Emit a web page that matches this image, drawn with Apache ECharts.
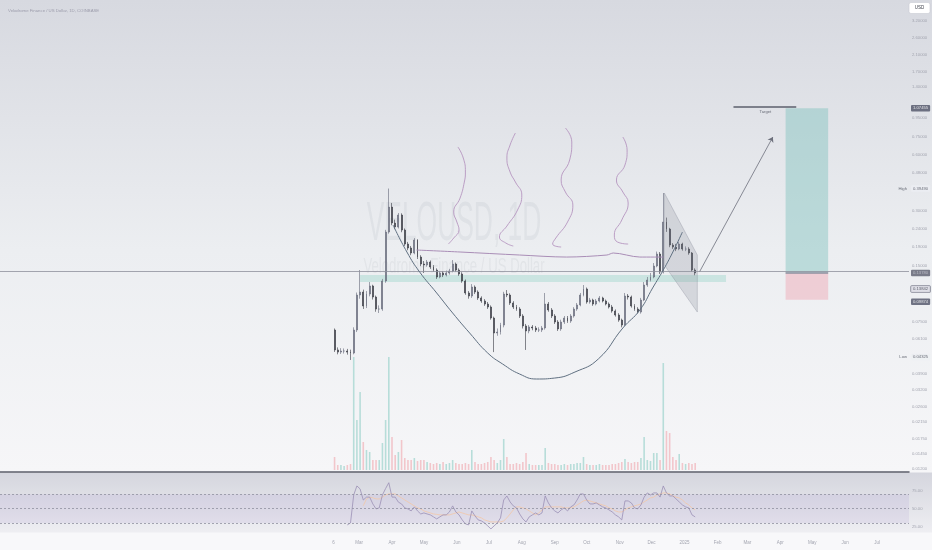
<!DOCTYPE html>
<html><head><meta charset="utf-8">
<script src="https://cdn.jsdelivr.net/npm/echarts@6/dist/echarts.min.js"></script>
<style>
html,body{margin:0;padding:0;}
#c{width:932px;height:550px;background:linear-gradient(to bottom,#d7d9e0 0px,#eceef1 250px,#f6f6f8 472px,#d5d6de 473px,#eeeef2 532px,#f8f8fa 533px,#f8f8fa 550px);}
</style></head><body><div id="c"></div>
<script>
// ---------- data (3-day candles, VELO/USD) ----------
const startDate = '2024-02-07';
const stepDays = 3;
const firstOpen = 0.0677;
const closes = [
0.0528,0.0514,0.0521,0.0521,0.0514,0.0508,0.0677,0.1047,0.1087,0.0913,
0.1060,0.1172,0.1021,0.0879,0.0879,0.1247,0.2296,0.3136,0.2569,0.2444,
0.2838,0.2354,0.1977,0.1882,0.1768,0.2078,0.1681,0.1541,0.1522,0.1580,
0.1485,0.1430,0.1311,0.1378,0.1344,0.1378,0.1413,0.1541,0.1430,0.1361,
0.1247,0.1074,0.1034,0.1157,0.1087,0.1009,0.0972,0.0936,0.0902,0.0786,
0.0652,0.0660,0.0720,0.1060,0.1047,0.0948,0.0902,0.0879,0.0806,0.0712,
0.0669,0.0703,0.0694,0.0677,0.0677,0.0694,0.0936,0.0869,0.0806,0.0748,
0.0686,0.0748,0.0786,0.0757,0.0806,0.0879,0.0925,0.1047,0.1129,0.0960,
0.0984,0.0936,0.0972,0.1009,0.0972,0.0936,0.0902,0.0858,0.0816,0.0766,
0.0720,0.1034,0.1021,0.0913,0.0879,0.0847,0.0984,0.1186,0.1262,0.1311,
0.1503,0.1746,0.1395,0.2601,0.2384,0.1953,0.1905,0.1858,0.1977,0.1858,
0.1858,0.1768,0.1430,0.1378];
const highs = [
0.0690,0.0545,0.0540,0.0538,0.0535,0.0530,0.0700,0.1080,0.1430,0.1120,
0.1100,0.1231,0.1190,0.1040,0.0920,0.1280,0.2360,0.3949,0.3300,0.2680,
0.2910,0.2900,0.2400,0.2030,0.1930,0.2130,0.2100,0.1720,0.1600,0.1620,
0.1610,0.1520,0.1460,0.1410,0.1410,0.1420,0.1450,0.1620,0.1570,0.1460,
0.1390,0.1270,0.1100,0.1200,0.1180,0.1110,0.1030,0.0995,0.0960,0.0920,
0.0800,0.0690,0.0740,0.1090,0.1114,0.1070,0.0970,0.0925,0.0900,0.0825,
0.0730,0.0720,0.0720,0.0712,0.0700,0.0712,0.1074,0.0960,0.0890,0.0825,
0.0766,0.0770,0.0806,0.0806,0.0825,0.0900,0.0948,0.1074,0.1186,0.1150,
0.1010,0.1000,0.0996,0.1034,0.1025,0.0990,0.0955,0.0925,0.0875,0.0835,
0.0780,0.1074,0.1060,0.1040,0.0935,0.0900,0.1010,0.1231,0.1311,0.1378,
0.1560,0.1800,0.1790,0.3735,0.2750,0.2420,0.2000,0.1980,0.2030,0.2010,
0.1920,0.1900,0.1790,0.1460];
const lows = [
0.0515,0.0500,0.0502,0.0505,0.0498,0.0466,0.0500,0.0660,0.1000,0.0880,
0.0890,0.1030,0.0990,0.0850,0.0837,0.0860,0.1220,0.2250,0.2500,0.2380,
0.2400,0.2290,0.1930,0.1830,0.1720,0.1740,0.1640,0.1500,0.1378,0.1490,
0.1450,0.1400,0.1280,0.1290,0.1310,0.1320,0.1350,0.1390,0.1400,0.1330,
0.1220,0.1050,0.1000,0.1010,0.1060,0.0985,0.0950,0.0915,0.0880,0.0770,
0.0514,0.0630,0.0640,0.0700,0.1020,0.0925,0.0880,0.0860,0.0786,0.0690,
0.0528,0.0650,0.0675,0.0660,0.0660,0.0660,0.0680,0.0850,0.0786,0.0730,
0.0669,0.0670,0.0730,0.0740,0.0740,0.0790,0.0860,0.0910,0.1030,0.0940,
0.0940,0.0915,0.0920,0.0955,0.0955,0.0920,0.0885,0.0840,0.0800,0.0750,
0.0700,0.0710,0.0990,0.0895,0.0860,0.0830,0.0830,0.0970,0.1160,0.1240,
0.1290,0.1480,0.1360,0.1370,0.2300,0.1900,0.1860,0.1810,0.1830,0.1820,
0.1810,0.1730,0.1400,0.1340];
const volumes = [
13,5,5,4,5,6,113,50,78,28,
20,18,10,10,10,27,50,113,33,15,
18,30,12,10,10,12,9,10,10,8,
7,6,7,6,8,6,7,10,7,6,
6,7,6,20,8,6,6,7,8,13,
10,7,10,31,13,6,6,7,6,8,
17,6,5,5,5,5,22,7,6,6,
5,5,6,5,6,6,7,7,13,6,
5,5,5,6,5,5,5,6,6,7,
8,11,8,7,8,8,12,33,10,9,
17,17,10,107,39,37,13,10,16,7,
6,7,6,7];
const rsi = [
null,null,null,null,27.4,30.1,69,81.5,77.4,62,
66,66,56.5,49.6,51,69,78,86,66,66,
59,56.5,51,49.6,46.8,52.4,46.8,42.6,44,42.6,
41.3,38.5,35.7,38.5,41.3,41.3,45.4,53.8,45.4,41.3,
34.3,28.8,27.4,46.8,39.9,34.3,32.9,30.1,26,21.8,
26,30.1,37.1,62,67.6,59.3,53.8,51,42.6,35.7,
31.5,38.5,41.3,44,41.3,44,67.6,57.9,51,46.8,
44,48.2,51,46.8,52.4,55.1,62,70.4,70.4,62,
56.5,56.5,57.9,55.1,52.4,51,48.2,45.4,41.3,38.5,
34.3,60.7,60.7,57.9,51,49.6,55.1,66,71.8,69,
71.8,71.8,66,81.5,71.8,67.6,67.6,63.5,59.3,55.1,
52.4,51,41.3,38.5];
const rsiMa = [
null,null,null,null,null,null,null,null,null,54,
63.5,66,65,63.5,63.5,66,69,70.4,70.4,70.4,
67.6,64.9,62,59.3,56.5,53.8,51,49.6,46.8,45.4,
44,42.6,42,41.3,41.3,41.3,41.3,42.6,44,45.4,
44,42.6,41.3,41.3,39.9,38.5,37.1,34.3,32.9,31.5,
31.5,31.5,31.5,32.9,37.1,42.6,48.2,52.4,52.4,51,
49.6,46.8,44,41.3,44,48.2,52.4,52.4,52.4,52.4,
52.4,52.4,51,51,51,52.4,55.1,57.9,60.7,62,
60.7,59.3,57.9,56.5,55.1,53.8,51,49.6,46.8,45.4,
45.4,48.2,51,52.4,53.8,55.1,56.5,59.3,62,64.9,
66,69,70.4,71.8,71.8,70.4,67.6,66,64.9,62,
57.9,55.1,51,48.2];

// ---------- axes ----------
const xRange = ['2023-03-29', '2025-07-31'];
const priceRange = [0.01153, 4.142];
const rsiRange = [17.5, 99.5];
const priceTicks = [3.2,2.6,2.1,1.7,1.4,0.95,0.75,0.6,0.48,0.3,0.24,0.19,0.15,0.075,0.061,0.049,0.039,0.032,0.026,0.0215,0.0175,0.0145,0.012];
const rsiTicks = [25, 50, 75];
const rsiLevels = [70, 50, 30];
const timeTickDates = ['2024-02-06','2024-03-01','2024-04-01','2024-05-01','2024-06-01','2024-07-01','2024-08-01','2024-09-01','2024-10-01','2024-11-01','2024-12-01','2025-01-01','2025-02-01','2025-03-01','2025-04-01','2025-05-01','2025-06-01','2025-07-01'];
const timeTickLabels = ['6','Mar','Apr','May','Jun','Jul','Aug','Sep','Oct','Nov','Dec','2025','Feb','Mar','Apr','May','Jun','Jul'];

// ---------- drawings (date, price) ----------
const cupArc = [['2024-04-02',0.2506],['2024-04-15',0.1790],['2024-04-27',0.1395],['2024-05-13',0.1074],['2024-05-28',0.0837],['2024-06-13',0.0652],['2024-06-30',0.0508],['2024-07-14',0.0443],['2024-07-30',0.0391],['2024-08-15',0.03675],['2024-09-01',0.0372],['2024-09-20',0.0401],['2024-10-12',0.0472],['2024-11-04',0.0694],['2024-11-20',0.0869],['2024-12-02',0.1143],['2024-12-12',0.1430],['2024-12-21',0.1790],['2024-12-30',0.2296]];
const neckline = [['2024-04-24',0.1835],['2024-06-04',0.1790],['2024-07-30',0.1724],['2024-09-12',0.1681],['2024-10-20',0.1724],['2024-10-26',0.1768],['2024-11-20',0.1681],['2024-12-12',0.1681]];
const squiggles = [
 [['2024-06-02',0.6629],['2024-06-07',0.5778],['2024-06-09',0.4853],['2024-06-08',0.4283],['2024-06-04',0.3508],['2024-05-29',0.2946],['2024-06-01',0.2601],['2024-06-03',0.2354],['2024-05-29',0.2131],['2024-05-24',0.1977]],
 [['2024-07-26',0.7891],['2024-07-21',0.6796],['2024-07-18',0.5778],['2024-07-21',0.4853],['2024-07-26',0.4283],['2024-08-01',0.3642],['2024-07-28',0.3021],['2024-07-18',0.2474],['2024-07-11',0.2158],['2024-07-17',0.2002],['2024-07-24',0.1929]],
 [['2024-09-11',0.8398],['2024-09-17',0.7055],['2024-09-15',0.5636],['2024-09-07',0.4391],['2024-09-11',0.3782],['2024-09-18',0.3216],['2024-09-13',0.2601],['2024-09-02',0.2131],['2024-08-30',0.1977],['2024-09-07',0.1905]],
 [['2024-11-04',0.7507],['2024-11-08',0.6383],['2024-11-06',0.5296],['2024-10-29',0.4391],['2024-11-04',0.3782],['2024-11-09',0.3297],['2024-11-03',0.2667],['2024-10-27',0.2212],['2024-10-30',0.2027],['2024-11-09',0.1977]]
];
const flagPts = [['2024-12-13',0.3735],['2025-01-13',0.1724],['2025-01-13',0.0847],['2024-12-13',0.1522]];
const arrowPts = [['2025-01-15',0.1395],['2025-03-25',0.7506]];
const targetLine = [['2025-02-16',1.095],['2025-04-16',1.095]];
const targetText = ['2025-03-18', 1.025];
const positionDates = ['2025-04-06','2025-05-16'];
const entryPrice = 0.13842, targetPrice = 1.07455, stopPrice = 0.09874;
const supportZone = {dates:['2024-03-02','2025-02-09'], prices:[0.1231,0.1344]};
const highPrice = 0.3949, lowPrice = 0.04325;

// ---------- build ----------
const DAY = 86400000;
const ts = s => { const p = s.split('-').map(Number); return Date.UTC(p[0], p[1]-1, p[2]); };
const t0 = ts(startDate);
const times = closes.map((_, i) => t0 + i * stepDays * DAY);
const opens = [firstOpen].concat(closes.slice(0, -1));
const lastClose = closes[closes.length - 1];
const xMin = ts(xRange[0]) + DAY / 2, xMax = ts(xRange[1]);
const labelMap = {};
timeTickDates.forEach((d, i) => { labelMap[ts(d)] = timeTickLabels[i]; });
const pt = p => [ts(p[0]), p[1]];
const FONT = 'Liberation Sans';

const candleData = times.map((t, i) => [t, opens[i], closes[i], lows[i], highs[i]]);
const volData = times.map((t, i) => ({value: [t, volumes[i]], itemStyle: {color: closes[i] >= opens[i] ? '#b7ddd9' : '#f2c6cb'}}));
const rsiData = times.map((t, i) => [t, rsi[i]]).filter(d => d[1] != null);
const rsiMaData = times.map((t, i) => [t, rsiMa[i]]).filter(d => d[1] != null);

const xBase = {type: 'value', min: xMin, max: xMax, axisTick: {show: false}, splitLine: {show: false}};
const lineS = (data, color, smooth, w) => ({type: 'line', xAxisIndex: 0, yAxisIndex: 0, data: data.map(pt), showSymbol: false, smooth: smooth, silent: true, z: 5, lineStyle: {color: color, width: w || 1}, clip: false});

const labelSeriesData = [
  {value: [xMax, targetPrice], label: {formatter: '1.07455', backgroundColor: '#4f5266', color: '#ffffff'}},
  {value: [xMax, highPrice], label: {formatter: '0.39490', backgroundColor: '#eceef2', color: '#4a4d5a'}},
  {value: [xMax, lastClose], label: {formatter: '0.13780', backgroundColor: '#5b5e6e', color: '#c9cad3'}},
  {value: [xMax, 0.1129], label: {formatter: '0.13842', backgroundColor: '#d9dae2', color: '#3c3f4c', borderColor: '#55586a', borderWidth: 0.6}},
  {value: [xMax, 0.0962], label: {formatter: '0.09874', backgroundColor: '#4f5266', color: '#ffffff'}},
  {value: [xMax, 0.0483], label: {formatter: '0.04325', backgroundColor: '#eef0f3', color: '#4a4d5a'}}
];
const wordData = [
  {value: [xMax, highPrice], label: {formatter: 'High'}},
  {value: [xMax, 0.0483], label: {formatter: 'Low'}}
];

const option = {
  animation: false,
  title: {text: 'Velodrome Finance / US Dollar, 1D, COINBASE', left: 3, top: 4, textStyle: {fontSize: 4.3, color: '#9c9cab', fontWeight: 'normal', fontFamily: FONT}},
  graphic: [
    {type: 'text', x: 454, y: 225, scaleX: 0.48, silent: true, z: 0, style: {text: 'VELOUSD, 1D', fontSize: 55, fontFamily: FONT, fill: 'rgba(90,95,115,0.07)', align: 'center', verticalAlign: 'middle'}},
    {type: 'text', x: 454, y: 267, scaleX: 0.6, silent: true, z: 0, style: {text: 'Velodrome Finance / US Dollar', fontSize: 22, fontFamily: FONT, fill: 'rgba(90,95,115,0.07)', align: 'center', verticalAlign: 'middle'}},
    {type: 'rect', shape: {x: 909, y: 2.5, width: 21, height: 11, r: 2}, style: {fill: '#ffffff', stroke: '#c9cbd3', lineWidth: 0.6}},
    {type: 'text', x: 919.5, y: 8, style: {text: 'USD', fontSize: 4.5, fontFamily: FONT, fill: '#3a3d48', align: 'center', verticalAlign: 'middle'}}
  ],
  grid: [
    {left: 0, right: 23, top: 0, height: 472, containLabel: false, outerBoundsMode: 'none'},
    {left: 0, right: 23, top: 357, height: 113, containLabel: false, outerBoundsMode: 'none'},
    {left: 0, right: 23, top: 473, height: 59, containLabel: false, outerBoundsMode: 'none'}
  ],
  xAxis: [
    Object.assign({}, xBase, {gridIndex: 0, axisLabel: {show: false}, axisLine: {show: true, lineStyle: {color: '#5b5e6a', width: 1.5}}}),
    Object.assign({}, xBase, {gridIndex: 1, axisLabel: {show: false}, axisLine: {show: false}}),
    Object.assign({}, xBase, {gridIndex: 2, axisLine: {show: false}, axisLabel: {customValues: timeTickDates.map(ts), formatter: v => labelMap[v] || '', fontSize: 4.5, color: '#a3a5b0', margin: 8, fontFamily: FONT, hideOverlap: false}})
  ],
  yAxis: [
    {type: 'log', gridIndex: 0, min: priceRange[0], max: priceRange[1], position: 'right', axisLine: {show: false}, axisTick: {show: false}, splitLine: {show: false},
     axisLabel: {customValues: priceTicks, formatter: v => Number(v).toFixed(5), fontSize: 4.2, color: '#a3a5b0', margin: 3, align: 'left', fontFamily: FONT, hideOverlap: false}},
    {type: 'value', gridIndex: 1, min: 0, max: 113, show: false},
    {type: 'value', gridIndex: 2, min: rsiRange[0], max: rsiRange[1], position: 'right', axisLine: {show: false}, axisTick: {show: false}, splitLine: {show: false},
     axisLabel: {customValues: rsiTicks, formatter: v => Number(v).toFixed(2), fontSize: 4.2, color: '#a3a5b0', margin: 3, align: 'left', fontFamily: FONT, hideOverlap: false}}
  ],
  series: [
    {type: 'line', name: 'zones', xAxisIndex: 0, yAxisIndex: 0, data: [], z: 1, silent: true,
     markArea: {silent: true, data: [
       [{xAxis: ts(supportZone.dates[0]), yAxis: supportZone.prices[0], itemStyle: {color: 'rgba(160,215,205,0.45)'}}, {xAxis: ts(supportZone.dates[1]), yAxis: supportZone.prices[1]}],
       [{xAxis: ts(positionDates[0]), yAxis: entryPrice, itemStyle: {color: 'rgba(120,190,185,0.42)'}}, {xAxis: ts(positionDates[1]), yAxis: targetPrice}],
       [{xAxis: ts(positionDates[0]), yAxis: stopPrice, itemStyle: {color: 'rgba(240,150,165,0.38)'}}, {xAxis: ts(positionDates[1]), yAxis: entryPrice}]
     ]},
     markLine: {silent: true, symbol: 'none', label: {show: false}, data: [
       [{coord: [ts(positionDates[0]), entryPrice], lineStyle: {color: '#8b90a0', width: 1.5, type: 'solid'}}, {coord: [ts(positionDates[1]), entryPrice]}],
       [{coord: pt(targetLine[0]), lineStyle: {color: '#5c5f6c', width: 1.5, type: 'solid'}}, {coord: pt(targetLine[1])}]
     ]}
    },
    {type: 'line', name: 'arrow', xAxisIndex: 0, yAxisIndex: 0, data: [], z: 5, silent: true,
     markLine: {silent: true, symbol: ['none', 'arrow'], symbolSize: 5, label: {show: false},
       data: [[{coord: pt(arrowPts[0]), lineStyle: {color: '#6d707c', width: 0.8, type: 'solid'}}, {coord: pt(arrowPts[1])}]]}},
    {type: 'bar', name: 'Volume', xAxisIndex: 1, yAxisIndex: 1, data: volData, barWidth: 1.6, z: 1, silent: true},
    {type: 'candlestick', name: 'VELOUSD', xAxisIndex: 0, yAxisIndex: 0, data: candleData, encode: {x: 0, y: [1, 2, 3, 4]}, barWidth: 1.4, z: 3,
     itemStyle: {color: '#656878', color0: '#35373f', borderColor: '#656878', borderColor0: '#35373f', borderWidth: 0.6},
     markLine: {silent: true, symbol: 'none', label: {show: false}, data: [{yAxis: lastClose, lineStyle: {color: '#8e919c', width: 0.8, type: 'solid'}}]}},
    lineS(cupArc, '#5f6f80', true, 1),
    lineS(neckline, '#a98db6', 0.3, 1),
    lineS(squiggles[0], '#b595bf', true, 0.9),
    lineS(squiggles[1], '#b595bf', true, 0.9),
    lineS(squiggles[2], '#b595bf', true, 0.9),
    lineS(squiggles[3], '#b595bf', true, 0.9),
    {type: 'custom', name: 'flag', xAxisIndex: 0, yAxisIndex: 0, data: [pt(flagPts[0])], encode: {x: 0, y: 1}, z: 4, silent: true, clip: false,
     renderItem: function (params, api) {
       const pts = flagPts.map(p => api.coord(pt(p)));
       return {type: 'polygon', shape: {points: pts}, style: {fill: 'rgba(125,128,142,0.22)', stroke: 'rgba(125,128,142,0.45)', lineWidth: 0.7}};
     }},
    {type: 'scatter', name: 'target', xAxisIndex: 0, yAxisIndex: 0, symbolSize: 0, clip: false, silent: true, z: 6,
     data: [pt(targetText)], label: {show: true, position: 'inside', formatter: 'Target', fontSize: 4.2, color: '#4a4d5a', fontFamily: FONT}},
    {type: 'scatter', name: 'priceLabels', xAxisIndex: 0, yAxisIndex: 0, symbolSize: 0, clip: false, silent: true, z: 10,
     data: labelSeriesData, label: {show: true, position: 'right', distance: 2, fontSize: 4.2, padding: [1.5, 2, 1, 2], borderRadius: 1, fontFamily: FONT}},
    {type: 'scatter', name: 'hlWords', xAxisIndex: 0, yAxisIndex: 0, symbolSize: 0, clip: false, silent: true, z: 10,
     data: wordData, label: {show: true, position: 'left', distance: 2, fontSize: 4.2, color: '#4a4d5a', fontFamily: FONT}},
    {type: 'line', name: 'RSI', xAxisIndex: 2, yAxisIndex: 2, data: rsiData, showSymbol: false, silent: true, z: 4, lineStyle: {color: '#9b8fb5', width: 0.8},
     markArea: {silent: true, itemStyle: {color: 'rgba(126,87,194,0.09)'}, data: [[{yAxis: rsiLevels[2]}, {yAxis: rsiLevels[0]}]]},
     markLine: {silent: true, symbol: 'none', label: {show: false}, lineStyle: {color: '#8f91a0', width: 0.8, type: [2, 2]},
       data: rsiLevels.map(v => ({yAxis: v}))}},
    {type: 'line', name: 'RSI MA', xAxisIndex: 2, yAxisIndex: 2, data: rsiMaData, showSymbol: false, silent: true, z: 3, lineStyle: {color: '#f3c6a6', width: 0.8}}
  ]
};
const chart = echarts.init(document.getElementById('c'), null, {renderer: 'canvas', width: 932, height: 550});
chart.setOption(option);
</script>
</body></html>
